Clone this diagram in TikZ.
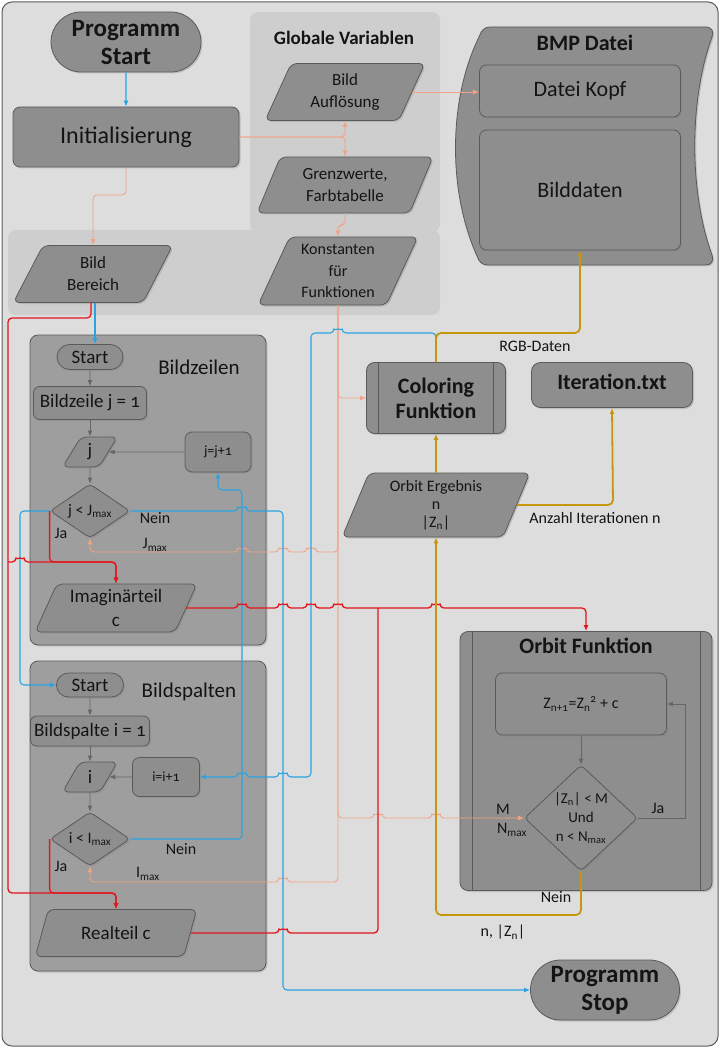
\documentclass[tikz,border=0pt]{standalone}
\usepackage{fontspec}
\setmainfont{Carlito}[Numbers=OldStyle]
\usetikzlibrary{shapes.geometric,shapes.misc,shadows,arrows.meta}

\definecolor{bgfill}{HTML}{DDDDDD}
\definecolor{globfill}{HTML}{CECECE}
\definecolor{panelfill}{HTML}{9E9E9E}
\definecolor{nodefill}{HTML}{8E8E8E}
\definecolor{bordergray}{HTML}{5A5A5A}
\definecolor{txt}{HTML}{141414}
\definecolor{lblue}{HTML}{2AA3E0}
\definecolor{lred}{HTML}{E3161C}
\definecolor{lorange}{HTML}{F2A285}
\definecolor{lgold}{HTML}{C6960C}
\definecolor{lgray}{HTML}{666666}

% small bridges where a line crosses another one
\newcommand\hopr[2]{-- (#1-4,#2) arc[start angle=180,end angle=0,radius=4]}
\newcommand\hopl[2]{-- (#1+4,#2) arc[start angle=0,end angle=180,radius=4]}

\begin{document}
\begin{tikzpicture}[x=1pt,y=1pt,>={Latex[length=6pt,width=5pt]},
    every node/.style={text=txt},
    shade/.style={drop shadow={opacity=0.3,shadow xshift=1.5pt,shadow yshift=-1.5pt}},
    box/.style={draw=bordergray, fill=nodefill, line width=0.8pt, rounded corners=7pt, inner sep=1pt, align=center, shade},
    term/.style={rounded rectangle, draw=bordergray, fill=nodefill, line width=0.8pt, inner sep=1pt, align=center, shade},
    data/.style={box, trapezium, trapezium left angle=66, trapezium right angle=114, trapezium stretches=true, rounded corners=6pt},
    decide/.style={box, diamond, rounded corners=4pt, inner sep=0pt},
    panel/.style={draw=bordergray, fill=panelfill, line width=0.8pt, rounded corners=8pt, shade},
    subproc/.style={box, rounded corners=8pt, path picture={
        \draw[bordergray, line width=0.8pt]
          ([xshift=12pt]path picture bounding box.north west) -- ([xshift=12pt]path picture bounding box.south west)
          ([xshift=-12pt]path picture bounding box.north east) -- ([xshift=-12pt]path picture bounding box.south east);}},
    fa/.style={font=\fontsize{14}{17}\selectfont},
    fb/.style={font=\fontsize{16}{19}\selectfont},
    fc/.style={font=\fontsize{17}{22}\selectfont},
    fd/.style={font=\fontsize{19}{24}\selectfont},
    fe/.style={font=\fontsize{22}{25}\selectfont},
    fbold/.style={font=\bfseries\fontsize{22}{25}\selectfont},
    fhuge/.style={font=\bfseries\fontsize{25}{28}\selectfont},
    bl/.style={draw=lblue, line width=1.1pt, rounded corners=4pt, ->},
    rd/.style={draw=lred, line width=1.3pt, rounded corners=4pt, ->},
    og/.style={draw=lorange, line width=0.9pt, rounded corners=4pt, ->},
    gd/.style={draw=lgold, line width=1.8pt, rounded corners=5pt, ->},
    gr/.style={draw=lgray, line width=0.8pt, ->}]

    \useasboundingbox (0,0) rectangle (720,-1048);
    \draw[bordergray, fill=bgfill, line width=1pt, rounded corners=10pt] (2,-2) rectangle (718,-1046);
    \fill[globfill, rounded corners=8pt] (250,-12) rectangle (440,-232);
    \fill[globfill, rounded corners=8pt] (8,-230) rectangle (440,-315);

    \node[term, minimum width=152, minimum height=60, fhuge] (pstart) at (126,-42) {Programm\\Start};
    \node[box, minimum width=226, minimum height=60, font=\fontsize{24}{27}\selectfont] (init) at (126,-137) {Initialisierung};
    \node[font=\bfseries\fontsize{19}{22}\selectfont] (gtitle) at (344,-38) {Globale Variablen};
    \node[data, minimum width=160, minimum height=57, fc] (aufl) at (345,-92) {Bild\\Auflösung};
    \node[data, minimum width=176, minimum height=56, fc] (grenz) at (345,-185) {Grenzwerte,\\Farbtabelle};
    \node[data, minimum width=160, minimum height=68, font=\fontsize{16}{21.5}\selectfont] (konst) at (338,-271) {Konstanten\\für\\Funktionen};
    \node[data, minimum width=160, minimum height=57, fc] (bereich) at (93,-274) {Bild\\Bereich};

    \draw[bordergray, fill=nodefill, line width=0.8pt, shade] (490,-27) -- (705,-27)
      .. controls (712,-27) and (714,-31) .. (712,-37)
      .. controls (689,-100) and (689,-192) .. (712,-255)
      .. controls (714,-262) and (711,-265) .. (705,-265) -- (488,-265)
      .. controls (482,-265) and (479,-262) .. (477,-256)
      .. controls (448,-192) and (448,-100) .. (479,-37)
      .. controls (481,-31) and (484,-27) .. cycle;
    \node[fbold] (bmptitle) at (585,-43) {BMP Datei};
    \node[box, minimum width=201, minimum height=52, fe] (kopf) at (580,-91) {Datei Kopf};
    \node[box, minimum width=201, minimum height=120, fe] (bilddaten) at (580,-190) {Bilddaten};

    \node[panel, minimum width=236, minimum height=310] (zpanel) at (148,-490) {};
    \node[font=\fontsize{21}{24}\selectfont] (ztitle) at (199,-367) {Bildzeilen};
    \node[term, minimum width=68, minimum height=25, fd] (zstart) at (90,-357) {Start};
    \node[box, minimum width=113, minimum height=33, rounded corners=6pt, fd] (zinit) at (90,-403) {Bildzeile j = 1};
    \node[data, trapezium left angle=70, trapezium right angle=110, minimum width=55, minimum height=30, fd] (zj) at (90,-452) {j};
    \node[box, minimum width=66, minimum height=40, fa] (zinc) at (218,-452) {j=j+1};
    \node[decide, minimum width=80, minimum height=54, aspect=1.5, fb] (zdia) at (90,-511) {j < J\textsubscript{max}};
    \node[data, minimum width=162, minimum height=48, fd] (imag) at (116,-608) {Imaginärteil\\c};

    \node[panel, minimum width=236, minimum height=310] (spanel) at (148,-816) {};
    \node[font=\fontsize{21}{24}\selectfont] (stitle) at (189,-692) {Bildspalten};
    \node[term, minimum width=69, minimum height=24, fd] (sstart) at (90,-685) {Start};
    \node[box, minimum width=119, minimum height=30, rounded corners=6pt, fd] (sinit) at (90,-731) {Bildspalte i = 1};
    \node[data, trapezium left angle=70, trapezium right angle=110, minimum width=55, minimum height=30, fd] (si) at (90,-777) {i};
    \node[box, minimum width=67, minimum height=39, fa] (sinc) at (166,-777) {i=i+1};
    \node[decide, minimum width=80, minimum height=54, aspect=1.5, fb] (sdia) at (90,-839) {i < I\textsubscript{max}};
    \node[data, minimum width=162, minimum height=47, fd] (real) at (116,-933) {Realteil c};

    \node[subproc, minimum width=139, minimum height=71, fbold] (color) at (436,-398) {Coloring\\Funktion};
    \node[box, rounded corners=9pt, minimum width=161, minimum height=45, fbold] (iter) at (612,-385) {\raisebox{6pt}{Iteration.txt}};
    \node[data, trapezium left angle=70, trapezium right angle=110, minimum width=188, minimum height=64, font=\fontsize{16}{18}\selectfont] (ergebnis) at (436,-505) {Orbit Ergebnis\\n\\|Z\textsubscript{n}|};
    \node[subproc, minimum width=252, minimum height=259] (orbit) at (586,-761) {};
    \node[fbold] (otitle) at (586,-646) {Orbit Funktion};
    \node[box, minimum width=171, minimum height=62, fb] (zbox) at (581,-704) {Z\textsubscript{n+1}=Z\textsubscript{n}\textsuperscript{2} + c};
    \node[decide, minimum width=113, minimum height=106, aspect=1.07, font=\fontsize{15}{19}\selectfont] (odia) at (581,-818) {|Z\textsubscript{n}| < M\\Und\\n < N\textsubscript{max}};
    \node[term, minimum width=151, minimum height=60, fhuge] (pstop) at (605,-990) {Programm\\Stop};

    \node[fb] (zno) at (155,-518) {Nein};
    \node[fb] (zyes) at (61,-533) {Ja};
    \node[fb] (zmax) at (155,-545) {J\textsubscript{max}};
    \node[fb] (sno) at (181,-849) {Nein};
    \node[fb] (syes) at (61,-866) {Ja};
    \node[fb] (smax) at (148,-874) {I\textsubscript{max}};
    \node[fb] (rgb) at (535,-346) {RGB-Daten};
    \node[fb] (anzahl) at (595,-518) {Anzahl Iterationen n};
    \node[fb] (mlab) at (503,-809) {M};
    \node[fb] (nlab) at (512,-830) {N\textsubscript{max}};
    \node[fb] (oyes) at (658,-808) {Ja};
    \node[fb] (ono) at (556,-897) {Nein};
    \node[fb] (nz) at (503,-932) {n, |Z\textsubscript{n}|};

    \coordinate (rsplit) at (8,-562);

    \draw[gr] (zstart) -- (zinit);
    \draw[gr] (zinit) -- (zj);
    \draw[gr] (zj) -- (zdia);
    \draw[gr] (zinc.west) -- (zj.east);
    \draw[gr] (sstart) -- (sinit);
    \draw[gr] (sinit) -- (si);
    \draw[gr] (si) -- (sdia);
    \draw[gr] (sinc.west) -- (si.east);
    \draw[gr] (zbox) -- (odia);
    \draw[gr] (odia.east) -- (685,-818) -- (685,-704) -- (zbox.east);

    \draw[og] (init.east) -- (345,-137) -- (aufl.south);
    \draw[og] (init.east) -- (345,-137) -- (grenz.north);
    \draw[og] (init.south) -- (126,-195) -- (93,-195) -- (bereich.north);
    \draw[og] (grenz.south) -- (345,-225) -- (338,-225) -- (konst.north);
    \draw[og] (aufl.east) -- (aufl.east -| kopf.west);
    \draw[og] (konst.south) -- (konst.south |- color.west) -- (color.west);
    \draw[og] (konst.south) -- (338,-552) \hopl{311}{-552} \hopl{283}{-552} \hopl{242}{-552} -- (90,-552) -- (zdia.south);
    \draw[og] (konst.south) -- (338,-818) \hopr{378}{-818} \hopr{436}{-818} -- (odia.west);
    \draw[og] (konst.south) -- (338,-882) \hopl{283}{-882} -- (90,-882) -- (sdia.south);

    \draw[bl] (pstart) -- (init);
    \draw[bl] ([xshift=2pt]bereich.south) -- ([xshift=2pt]bereich.south |- zstart.north);
    \draw[bl] (zdia.west) -- (20,-511) -- (20,-685) -- (sstart.west);
    \draw[bl] (zdia.east) \hopr{242}{-511} -- (283,-511) -- (283,-990) -- (pstop.west);
    \draw[bl] (sdia.east) -- (242,-839) -- (242,-490) -- (218,-490) -- (zinc.south);
    \draw[bl] (color.north) -- (436,-333) \hopl{338}{-333} -- (311,-333) -- (311,-777) \hopl{283}{-777} \hopl{242}{-777} -- (sinc.east);

    \draw[rd] ([xshift=-2pt]bereich.south) -- (91,-318) -- (8,-318) -- (8,-893) -- (116,-893) -- (real.north);
    \draw[rd] (rsplit) \hopr{20}{-562} -- (116,-562) -- (imag.north);
    \draw[rd] (zdia.west) -- (zdia.west |- 0,-562) -- (116,-562) -- (imag.north);
    \draw[rd] (sdia.west) -- (sdia.west |- 0,-893) -- (116,-893) -- (real.north);
    \draw[rd] (imag.east) \hopr{242}{-608} \hopr{283}{-608} \hopr{311}{-608} \hopr{338}{-608} \hopr{436}{-608} -- (586,-608) -- (orbit.north);
    \draw[rd, -] (real.east) \hopr{283}{-933} -- (378,-933) -- (378,-608);

    \draw[gd] (color.north) -- (436,-333) -- (580,-333) -- (bilddaten.south);
    \draw[gd] (ergebnis) -- (color);
    \draw[gd] (ergebnis.east) -- (613,-505) -- (iter.south);
    \draw[gd] (odia.south) -- (581,-915) -- (436,-915) -- (ergebnis.south);
\end{tikzpicture}
\end{document}
